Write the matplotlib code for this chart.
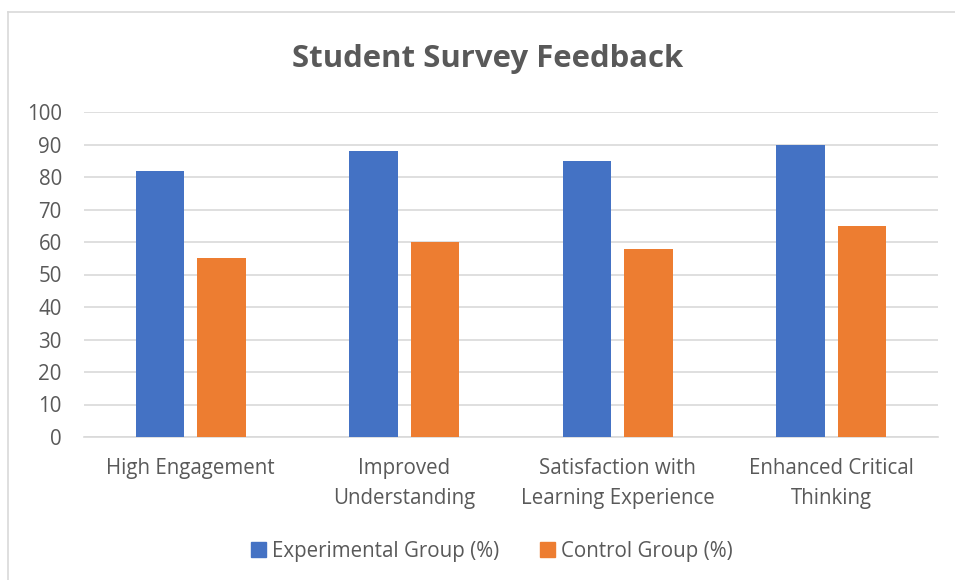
import matplotlib.pyplot as plt
import numpy as np
from matplotlib.lines import Line2D

# survey data
categories = ['High Engagement', 'Improved\nUnderstanding',
              'Satisfaction with\nLearning Experience', 'Enhanced Critical\nThinking']
experimental = [82, 88, 85, 90]
control = [55, 60, 58, 65]
series_names = ['Experimental Group (%)', 'Control Group (%)']

blue = '#4472C4'
orange = '#ED7D31'
grey_text = '#595959'

plt.rcParams['font.family'] = ['Open Sans', 'DejaVu Sans']

fig = plt.figure(figsize=(9.55, 5.8), dpi=100)
ax = fig.add_axes([84/955, 1 - 437/580, (938-84)/955, (437-112)/580])

x = np.arange(len(categories))
w = 0.225
ax.bar(x - 0.144, experimental, w, color=blue, zorder=3)
ax.bar(x + 0.144, control, w, color=orange, zorder=3)

ax.set_xlim(-0.5, len(categories) - 0.5)
ax.set_ylim(0, 100)
ax.set_yticks(range(0, 101, 10))
ax.yaxis.grid(True, color='#D9D9D9', linewidth=1.2, zorder=0)
ax.set_xticks(x)
ax.set_xticklabels(categories, fontsize=14.8, color=grey_text, linespacing=1.55)
ax.tick_params(axis='y', labelsize=14.8, labelcolor=grey_text, length=0, pad=16)
ax.tick_params(axis='x', length=0, pad=15)
for s in ['top', 'right', 'left']:
    ax.spines[s].set_visible(False)
ax.spines['bottom'].set_color('#D9D9D9')
ax.spines['bottom'].set_linewidth(1.2)

fig.text(488/955, 1 - 59/580, 'Student Survey Feedback', ha='center', va='center',
         fontsize=22.4, fontweight='bold', color=grey_text)

# chart border (left and top visible)
fig.add_artist(Line2D([8/955, 8/955], [0, 1 - 12/580], color='#D9D9D9', lw=1.2))
fig.add_artist(Line2D([8/955, 1], [1 - 12/580, 1 - 12/580], color='#D9D9D9', lw=1.2))

handles = [plt.Rectangle((0, 0), 1, 1, color=blue), plt.Rectangle((0, 0), 1, 1, color=orange)]
fig.legend(handles, series_names, loc='center', bbox_to_anchor=(0.515, 1 - 551/580),
           ncol=2, frameon=False, fontsize=14.8, labelcolor=grey_text,
           handlelength=0.7, handleheight=0.7, handletextpad=0.3, columnspacing=2.0)

fig.savefig('out.png', dpi=100)
